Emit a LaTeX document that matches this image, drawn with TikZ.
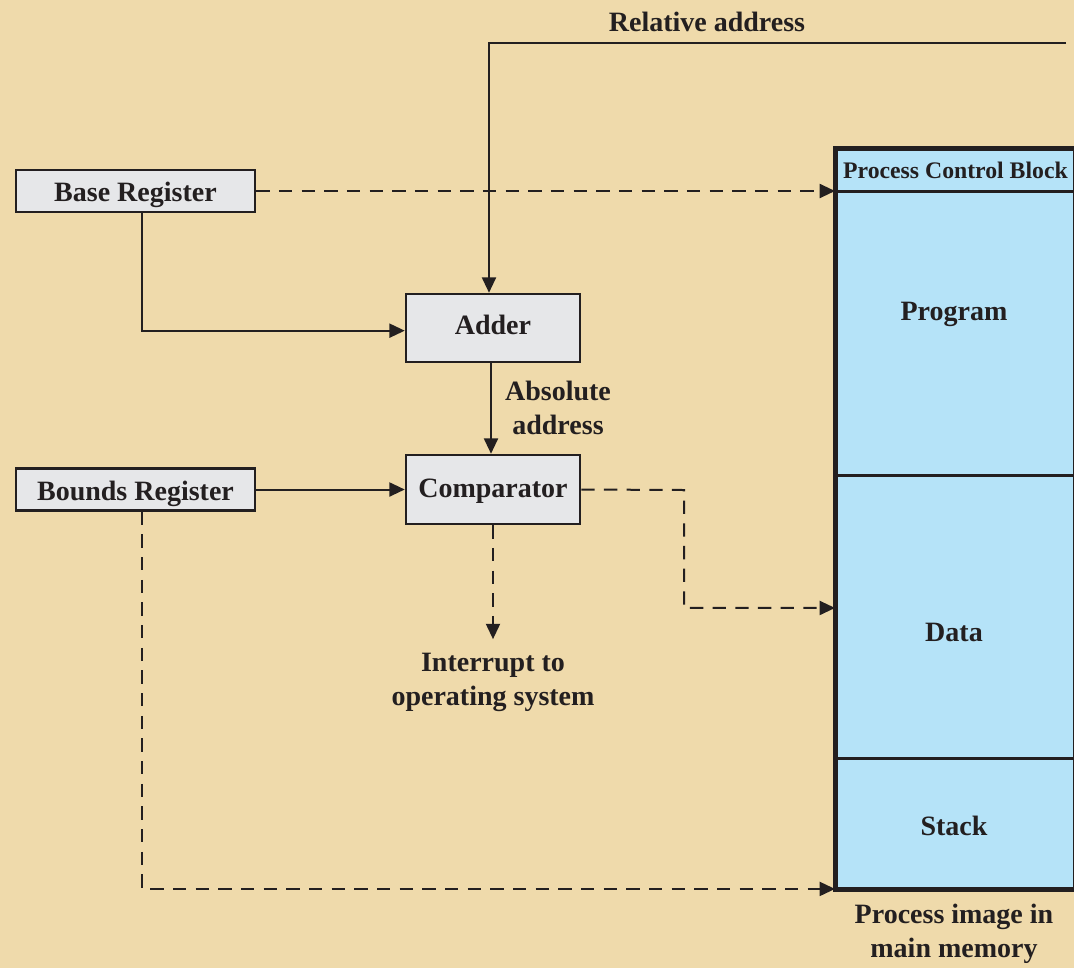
\documentclass[tikz,border=0pt]{standalone}
\usepackage{fontspec}
\setmainfont{Liberation Serif}
\usetikzlibrary{arrows.meta}
\definecolor{parch}{HTML}{EFDAAB}
\definecolor{ink}{HTML}{231F20}
\definecolor{boxfill}{HTML}{E6E7E9}
\definecolor{memfill}{HTML}{B5E3F8}
\tikzset{
  regbox/.style={draw=ink, line width=1.9pt, fill=boxfill, inner sep=0pt,
    text height=16pt, text depth=0pt,
    font=\fontsize{21pt}{25pt}\selectfont\bfseries, text=ink},
  memsec/.style={draw=ink, line width=2.2pt, fill=memfill, inner sep=0pt,
    minimum width=178.5pt, anchor=north west,
    font=\fontsize{21pt}{25pt}\selectfont\bfseries, text=ink},
  lbl/.style={font=\fontsize{21pt}{25.5pt}\selectfont\bfseries, text=ink, align=center, inner sep=0pt},
  arr/.style={draw=ink, line width=1.5pt, -{Triangle[length=11.5pt,width=10.5pt]}},
  darr/.style={arr, dash pattern=on 10pt off 7pt},
}
\begin{document}
\begin{tikzpicture}[x=0.75pt,y=-0.75pt]
\fill[parch] (0,0) rectangle (1074,968);
\useasboundingbox (0,0) rectangle (1074,968);

% registers and units
\node[regbox, minimum width=179.25pt, minimum height=31.5pt] (base) at (135.5,191) {Base Register};
\node[regbox, minimum width=179.25pt, minimum height=31.5pt] (bounds) at (135.5,489.5) {Bounds Register};
\node[regbox, minimum width=130.5pt, minimum height=51pt, text height=10pt] (adder) at (493,328) {Adder};
\node[regbox, minimum width=130.5pt, minimum height=51.75pt, text height=11.5pt] (comp) at (493,489.5) {Comparator};

% memory image
\node[memsec, minimum height=31.5pt, font=\fontsize{17.8pt}{20pt}\selectfont\bfseries] (pcb) at (835,148) {Process Control Block};
\node[memsec, minimum height=213pt] (prog) at (835,190) {};
\node[memsec, minimum height=212.25pt] (data) at (835,474) {};
\node[memsec, minimum height=97.5pt] (stack) at (835,757) {};
\node[lbl] (progl) at (954,314) {Program};
\node[lbl] (datal) at (954,632) {Data};
\node[lbl] (stackl) at (954,826) {Stack};
\draw[ink, line width=3pt] (pcb.north west) rectangle (stack.south east);

% labels
\node[lbl] (rel) at (707,22) {Relative address};
\node[lbl] (abs) at (558,408) {Absolute\\address};
\node[lbl] (intr) at (493,682) {Interrupt to\\operating system};
\node[lbl] (img) at (954,934) {Process image in\\main memory};

% connectors
\coordinate (relin) at (1066,43);
\draw[arr] (relin) -| ([xshift=-3pt]adder.north);
\draw[arr] ([xshift=5pt]base.south) |- ([yshift=-2pt]adder.west);
\draw[darr] (base.east) -- (base.east -| pcb.west);
\draw[arr] ([xshift=-1.5pt]adder.south) -- ([xshift=-1.5pt]comp.north);
\draw[arr] (bounds.east) -- (comp.west);
\coordinate (bend) at (684,490);
\draw[darr] (comp.east) -- (bend) |- ([yshift=6.75pt]data.west);
\draw[darr] (comp.south) -- ([yshift=10pt]intr.north);
\draw[darr] ([xshift=5pt]bounds.south) |- ([yshift=0.75pt]stack.south west);
\end{tikzpicture}
\end{document}
